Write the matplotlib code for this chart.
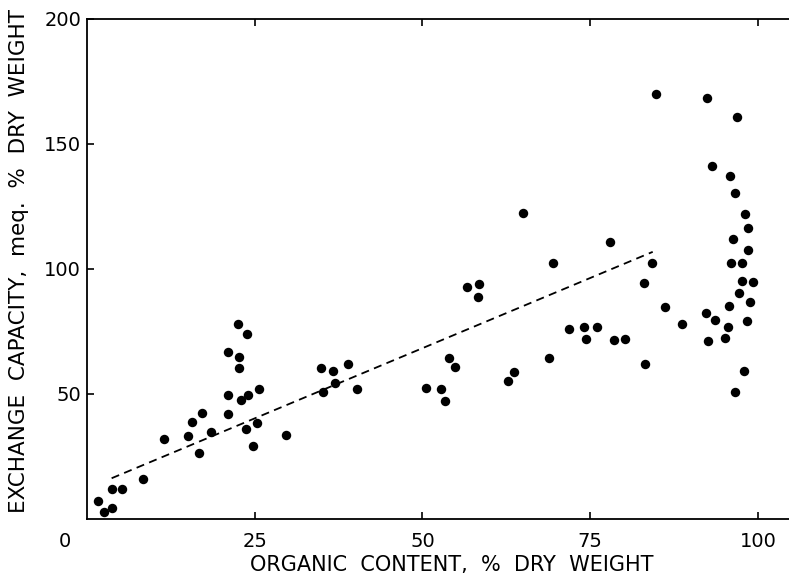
import matplotlib
matplotlib.use("Agg")
import matplotlib.pyplot as plt

# organic content (% dry weight) and exchange capacity (meq. % dry weight)
organic = [
    1.7, 2.5, 3.7, 3.8, 5.2, 8.3, 11.5, 15.1, 15.6, 17.1, 16.7, 18.5,
    21.0, 21.1, 22.9, 24.0, 25.7, 23.7, 25.4, 24.7, 29.6, 22.5, 23.8,
    21.1, 22.7, 22.7,
    34.9, 36.7, 38.9, 37.0, 35.2, 40.3, 50.5, 52.8, 53.4, 54.0, 54.8,
    56.7, 58.4, 58.3, 62.7, 63.7, 65.0, 68.8, 69.4, 71.8, 74.0, 76.0,
    74.4, 78.0, 78.6, 80.1,
    83.1, 83.0, 84.2, 84.8, 86.1, 88.7, 92.3, 92.4, 92.5, 93.1, 93.6,
    95.1, 95.5, 95.6, 95.8, 96.0, 96.2, 96.6, 96.6, 96.8, 97.2, 97.6,
    97.6, 97.9, 98.0, 98.3, 98.5, 98.5, 98.8, 99.2,
]
capacity = [
    7.2, 2.7, 4.3, 12.0, 12.1, 16.1, 31.9, 33.1, 38.8, 42.4, 26.3, 34.7,
    49.6, 42.1, 47.6, 49.5, 52.1, 36.1, 38.5, 29.3, 33.7, 78.0, 74.0,
    66.9, 64.7, 60.3,
    60.4, 59.2, 61.9, 54.3, 50.9, 52.0, 52.5, 52.1, 47.2, 64.5, 60.6,
    92.7, 94.0, 88.8, 55.2, 58.8, 122.3, 64.5, 102.3, 76.0, 76.9, 76.8,
    71.9, 110.7, 71.7, 71.9,
    62.0, 94.5, 102.5, 169.9, 84.8, 78.0, 82.5, 168.1, 71.2, 141.1, 79.5,
    72.3, 76.9, 85.1, 137.1, 102.5, 111.9, 50.8, 130.3, 160.9, 90.3, 95.3,
    102.4, 59.3, 122.1, 79.1, 116.3, 107.6, 86.7, 94.8,
]

# fitted trend line, end points
fit_x = [3.7, 84.3]
fit_y = [16.3, 106.8]

x_ticks = [25, 50, 75, 100]
y_ticks = [50, 100, 150, 200]

plt.rcParams["font.family"] = ["DejaVu Sans"]

fig = plt.figure(figsize=(7.89, 5.77), dpi=100)
ax = fig.add_axes([0.110, 0.1005, 0.890, 0.8671])

ax.plot(fit_x, fit_y, color="black", lw=1.3, linestyle=(0, (4.5, 3)))
ax.plot(organic, capacity, "o", color="black", markersize=6.8,
        markeredgewidth=0, zorder=3)

ax.set_xlim(0, 104.6)
ax.set_ylim(0, 200)

ax.spines["right"].set_visible(False)
for side in ("left", "top", "bottom"):
    ax.spines[side].set_linewidth(1.3)

ax.set_xticks(x_ticks)
ax.set_yticks(y_ticks)
ax.tick_params(axis="both", direction="in", length=5, width=1.2,
               labelsize=14, colors="black")
ax.tick_params(axis="x", top=True, pad=9)
ax.tick_params(axis="y", pad=4)

# shared origin label sits below-left of the corner
ax.annotate("0", xy=(0, 0), xytext=(-15.5, -9.4), textcoords="offset points",
            ha="center", va="top", fontsize=14)

ax.set_xlabel("ORGANIC  CONTENT,  %  DRY  WEIGHT", fontsize=15)
ax.set_ylabel("EXCHANGE  CAPACITY,  meq.  %  DRY  WEIGHT", fontsize=15.5)
ax.xaxis.set_label_coords(0.52, -0.072)
ax.yaxis.set_label_coords(-0.082, 0.516)

fig.savefig("out.png", dpi=100)
